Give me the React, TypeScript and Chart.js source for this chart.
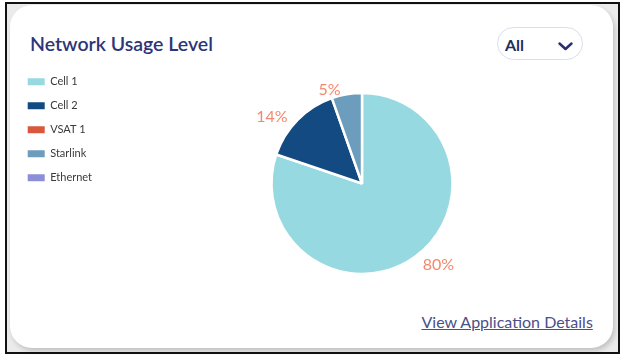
import React, { useEffect, useRef } from 'react';
import { Chart, registerables } from 'chart.js';

Chart.register(...registerables);

// ---- data ----
const categories = ['Cell 1', 'Cell 2', 'VSAT 1', 'Starlink', 'Ethernet'];
const usageValues = [80.2, 14.4, 0, 5.4, 0];
const sliceColors = ['#97d9e0', '#134a82', '#d9573b', '#6d9dbd', '#8b8fd8'];
const percentColor = '#f4876c';
const titleText = 'Network Usage Level';
const filterText = 'All';
const linkText = 'View Application Details';

const FONT = 'Lato, "Open Sans", sans-serif';
const CANVAS_W = 720;
const CANVAS_H = 356;
const PIE_CX = 362;
const PAD = { left: 14.7, top: 63.3, bottom: 52.3 };

const pieLabels = {
  id: 'pieLabels',
  afterDatasetsDraw(chart: any) {
    const ctx = chart.ctx;
    const meta = chart.getDatasetMeta(0);
    const data = chart.data.datasets[0].data as number[];
    const total = data.reduce((a: number, b: number) => a + b, 0);
    ctx.save();
    ctx.font = `16px ${FONT}`;
    ctx.fillStyle = percentColor;
    ctx.textBaseline = 'middle';
    meta.data.forEach((arc: any, i: number) => {
      const v = data[i];
      if (!v) return;
      const { x, y, startAngle, endAngle, outerRadius } = arc.getProps(
        ['x', 'y', 'startAngle', 'endAngle', 'outerRadius'],
        true
      );
      const mid = (startAngle + endAngle) / 2;
      const r = outerRadius + 7;
      const px = x + Math.cos(mid) * r;
      const py = y + Math.sin(mid) * r;
      const right = Math.cos(mid) >= 0;
      ctx.textAlign = right ? 'left' : 'right';
      ctx.fillText(Math.round((v / total) * 100) + '%', px + (right ? 4 : -5), py + 2);
    });
    ctx.restore();
  },
};

function PieChart() {
  const ref = useRef<HTMLCanvasElement | null>(null);
  useEffect(() => {
    if (!ref.current) return;
    const chart = new Chart(ref.current, {
      type: 'pie',
      data: {
        labels: categories,
        datasets: [
          {
            data: usageValues,
            backgroundColor: sliceColors,
            borderColor: '#ffffff',
            borderWidth: 2.5,
            radius: 90.5,
          } as any,
        ],
      },
      options: {
        responsive: false,
        animation: false,
        layout: { padding: { ...PAD, right: 0 } },
        plugins: {
          legend: {
            position: 'left',
            align: 'start',
            labels: {
              boxWidth: 17,
              boxHeight: 7,
              padding: 13,
              color: '#3a3a3a',
              font: { family: FONT, size: 11 },
              generateLabels: () =>
                categories.map((text, i) => ({
                  text,
                  fillStyle: sliceColors[i],
                  strokeStyle: sliceColors[i],
                  lineWidth: 0,
                  hidden: false,
                  index: i,
                  fontColor: '#3a3a3a',
                })),
            },
          },
          tooltip: { enabled: false },
        },
      },
      plugins: [pieLabels],
    });
    const left = chart.chartArea.left;
    const desiredRight = 2 * PIE_CX - left;
    (chart.options as any).layout.padding = { ...PAD, right: CANVAS_W - desiredRight };
    chart.update();
    return () => chart.destroy();
  }, []);
  return <canvas ref={ref} width={CANVAS_W} height={CANVAS_H} style={{ display: 'block' }} />;
}

export default function App() {
  return (
    <div
      style={{
        position: 'fixed',
        left: 0,
        top: 0,
        width: 625,
        height: 356,
        background: '#ffffff',
        overflow: 'hidden',
        fontFamily: FONT,
      }}
    >
      <div
        style={{
          position: 'absolute',
          left: 5,
          top: 2,
          width: 615,
          height: 352,
          boxSizing: 'border-box',
          border: '2px solid #111',
          background: '#ebebeb',
        }}
      />
      <div
        style={{
          position: 'absolute',
          left: 10,
          top: 5,
          width: 603,
          height: 343,
          borderRadius: 22,
          background: '#ffffff',
          boxShadow: '2px 3px 5px rgba(0,0,0,0.18)',
        }}
      />
      <div
        style={{
          position: 'absolute',
          left: 30,
          top: 33.5,
          fontSize: 19.5,
          lineHeight: '20px',
          fontWeight: 600,
          color: '#2e3577',
          whiteSpace: 'nowrap',
        }}
      >
        {titleText}
      </div>
      <div
        style={{
          position: 'absolute',
          left: 497,
          top: 27,
          width: 86,
          height: 33,
          boxSizing: 'border-box',
          border: '1px solid #d8deea',
          borderRadius: 17,
          background: '#fff',
        }}
      />
      <div
        style={{
          position: 'absolute',
          left: 505,
          top: 37,
          fontSize: 16,
          lineHeight: '16px',
          fontWeight: 700,
          color: '#1f2f5c',
        }}
      >
        {filterText}
      </div>
      <svg style={{ position: 'absolute', left: 0, top: 0 }} width={625} height={356}>
        <path
          d="M559.5 43.5 L565.5 49 L571.5 43.5"
          fill="none"
          stroke="#2b2f6e"
          strokeWidth={2.5}
          strokeLinecap="round"
          strokeLinejoin="round"
        />
      </svg>
      <div
        style={{
          position: 'absolute',
          left: 421.5,
          top: 314,
          fontSize: 16,
          lineHeight: '16px',
          color: '#4b4f8a',
          textDecoration: 'underline',
          whiteSpace: 'nowrap',
        }}
      >
        {linkText}
      </div>
      <div
        style={{
          position: 'absolute',
          left: 0,
          top: 0,
          width: 625,
          height: 356,
          overflow: 'hidden',
          pointerEvents: 'none',
        }}
      >
        <PieChart />
      </div>
    </div>
  );
}
